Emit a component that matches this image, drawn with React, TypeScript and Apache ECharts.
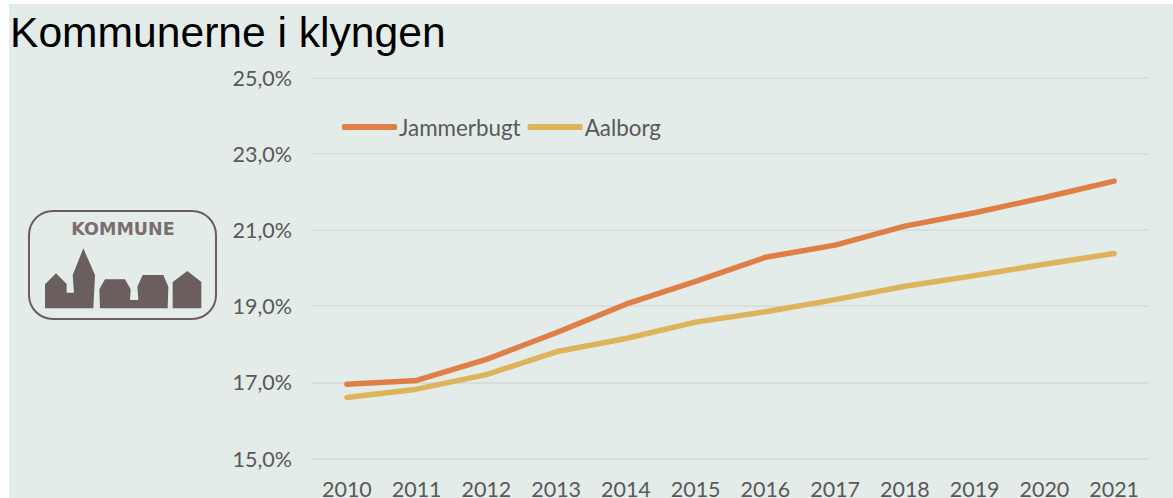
import React, { useEffect, useRef } from "react";
import * as echarts from "echarts";

const categories = ["2010","2011","2012","2013","2014","2015","2016","2017","2018","2019","2020","2021"];
const jammerbugt = [16.95,17.05,17.6,18.3,19.05,19.65,20.28,20.6,21.1,21.45,21.85,22.28];
const aalborg = [16.6,16.82,17.2,17.8,18.15,18.58,18.85,19.17,19.52,19.8,20.1,20.38];
const logoColor = "#6B5E5E";
const silhouettes = [
  [[135,355],[135,283],[168,250],[200,282],[200,308],[222,308],[218,255],[250,175],[285,255],[280,355]],
  [[300,355],[298,298],[315,268],[375,268],[392,298],[390,330],[415,330],[412,290],[428,255],[490,255],[505,290],[503,355]],
  [[518,355],[518,276],[562,243],[604,276],[604,355]],
];

export default function App() {
  const ref = useRef<HTMLDivElement>(null);
  useEffect(() => {
    const chart = echarts.init(ref.current!, null, { renderer: "svg" });
    const font = "Lato";
    chart.setOption({
      animation: false,
      backgroundColor: "#FFFFFF",
      title: {
        text: "Kommunerne i klyngen",
        left: 5,
        top: 5,
        textStyle: { fontFamily: "Liberation Sans", fontSize: 42.6, fontWeight: "normal", color: "#000000" },
      },
      legend: {
        left: 337,
        top: 111,
        itemWidth: 55,
        itemHeight: 6,
        itemGap: 7,
        icon: "roundRect",
        textStyle: { fontFamily: font, fontSize: 22.4, color: "#595959", padding: [0, 0, 2, -3] },
        data: ["Jammerbugt", "Aalborg"],
      },
      grid: { left: 312, top: 77.5, width: 837, height: 381, outerBoundsMode: "none" },
      xAxis: {
        type: "category",
        data: categories,
        axisLine: { show: false },
        axisTick: { show: false },
        axisLabel: { fontFamily: font, fontSize: 21.5, lineHeight: 18, color: "#595959", margin: 21 },
      },
      yAxis: {
        type: "value",
        min: 15,
        max: 25,
        interval: 2,
        axisLine: { show: false },
        axisTick: { show: false },
        splitLine: { lineStyle: { color: "#D9DEDD", width: 2 } },
        axisLabel: {
          fontFamily: font,
          fontSize: 21.5,
          color: "#595959",
          margin: 20,
          formatter: (v: number) => v.toFixed(1).replace(".", ",") + "%",
        },
      },
      series: [
        { name: "Jammerbugt", type: "line", data: jammerbugt, showSymbol: false, symbol: "none",
          lineStyle: { color: "#E07F45", width: 5.5, cap: "round" }, itemStyle: { color: "#E07F45" } },
        { name: "Aalborg", type: "line", data: aalborg, showSymbol: false, symbol: "none",
          lineStyle: { color: "#DDB35C", width: 5.5, cap: "round" }, itemStyle: { color: "#DDB35C" } },
      ],
      graphic: [
        { type: "rect", z: -10, silent: true, shape: { x: 9, y: 4, width: 1164, height: 494 }, style: { fill: "#E3ECE9" } },
        { type: "rect", shape: { x: 29, y: 211, width: 187, height: 108, r: 24 }, style: { fill: "transparent", stroke: logoColor, lineWidth: 2 } },
        { type: "text", style: { x: 123, y: 229, text: "KOMMUNE", align: "center", verticalAlign: "middle", fill: "#7A6E6E", font: "bold 17.5px 'DejaVu Sans'" } },
        ...silhouettes.map((pts) => ({
          type: "polygon",
          shape: { points: pts.map(([x, y]) => [x / 3, y / 3 + 190]) },
          style: { fill: logoColor },
        })),
      ],
    });
    return () => chart.dispose();
  }, []);
  return <div ref={ref} style={{ position: "fixed", left: 0, top: 0, width: 1173, height: 498 }} />;
}
